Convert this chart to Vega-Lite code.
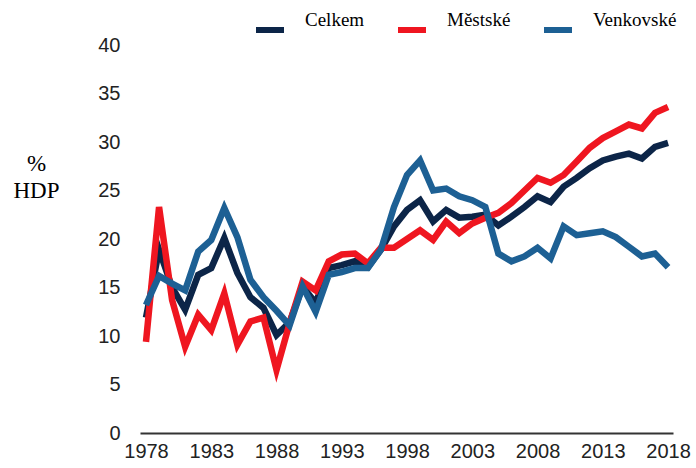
{
  "$schema": "https://vega.github.io/schema/vega-lite/v6.json",
  "width": 533,
  "height": 388,
  "autosize": {"type": "none"},
  "padding": {"left": 140, "top": 45, "right": 23, "bottom": 35},
  "background": "white",
  "config": {"view": {"stroke": null}},
  "data": {
    "values": [
      {"year": 1978, "Celkem": 11.9, "Městské": 9.4, "Venkovské": 13.2},
      {"year": 1979, "Celkem": 18.9, "Městské": 23.3, "Venkovské": 16.2},
      {"year": 1980, "Celkem": 15.0, "Městské": 13.7, "Venkovské": 15.4},
      {"year": 1981, "Celkem": 12.7, "Městské": 8.9, "Venkovské": 14.7},
      {"year": 1982, "Celkem": 16.3, "Městské": 12.2, "Venkovské": 18.7},
      {"year": 1983, "Celkem": 17.0, "Městské": 10.6, "Venkovské": 19.9},
      {"year": 1984, "Celkem": 20.1, "Městské": 14.4, "Venkovské": 23.2},
      {"year": 1985, "Celkem": 16.5, "Městské": 9.1, "Venkovské": 20.2},
      {"year": 1986, "Celkem": 14.0, "Městské": 11.5, "Venkovské": 15.8},
      {"year": 1987, "Celkem": 12.9, "Městské": 11.9, "Venkovské": 14.0},
      {"year": 1988, "Celkem": 10.1, "Městské": 6.5, "Venkovské": 12.6},
      {"year": 1989, "Celkem": 11.4, "Městské": 11.3, "Venkovské": 11.1},
      {"year": 1990, "Celkem": 15.1, "Městské": 15.6, "Venkovské": 15.1},
      {"year": 1991, "Celkem": 13.4, "Městské": 14.7, "Venkovské": 12.5},
      {"year": 1992, "Celkem": 17.0, "Městské": 17.7, "Venkovské": 16.3},
      {"year": 1993, "Celkem": 17.3, "Městské": 18.4, "Venkovské": 16.6},
      {"year": 1994, "Celkem": 17.7, "Městské": 18.5, "Venkovské": 17.0},
      {"year": 1995, "Celkem": 17.1, "Městské": 17.5, "Venkovské": 17.0},
      {"year": 1996, "Celkem": 18.9, "Městské": 19.1, "Venkovské": 18.9},
      {"year": 1997, "Celkem": 21.3, "Městské": 19.1, "Venkovské": 23.3},
      {"year": 1998, "Celkem": 23.0, "Městské": 20.0, "Venkovské": 26.6},
      {"year": 1999, "Celkem": 24.0, "Městské": 20.9, "Venkovské": 28.1},
      {"year": 2000, "Celkem": 21.8, "Městské": 19.9, "Venkovské": 25.0},
      {"year": 2001, "Celkem": 23.0, "Městské": 21.8, "Venkovské": 25.2},
      {"year": 2002, "Celkem": 22.2, "Městské": 20.6, "Venkovské": 24.4},
      {"year": 2003, "Celkem": 22.3, "Městské": 21.6, "Venkovské": 24.0},
      {"year": 2004, "Celkem": 22.5, "Městské": 22.2, "Venkovské": 23.3},
      {"year": 2005, "Celkem": 21.4, "Městské": 22.7, "Venkovské": 18.5},
      {"year": 2006, "Celkem": 22.3, "Městské": 23.7, "Venkovské": 17.7},
      {"year": 2007, "Celkem": 23.3, "Městské": 25.0, "Venkovské": 18.2},
      {"year": 2008, "Celkem": 24.4, "Městské": 26.3, "Venkovské": 19.1},
      {"year": 2009, "Celkem": 23.8, "Městské": 25.8, "Venkovské": 18.0},
      {"year": 2010, "Celkem": 25.4, "Městské": 26.6, "Venkovské": 21.3},
      {"year": 2011, "Celkem": 26.3, "Městské": 28.0, "Venkovské": 20.4},
      {"year": 2012, "Celkem": 27.3, "Městské": 29.4, "Venkovské": 20.6},
      {"year": 2013, "Celkem": 28.1, "Městské": 30.4, "Venkovské": 20.8},
      {"year": 2014, "Celkem": 28.5, "Městské": 31.1, "Venkovské": 20.2},
      {"year": 2015, "Celkem": 28.8, "Městské": 31.8, "Venkovské": 19.2},
      {"year": 2016, "Celkem": 28.3, "Městské": 31.4, "Venkovské": 18.2},
      {"year": 2017, "Celkem": 29.5, "Městské": 33.0, "Venkovské": 18.5},
      {"year": 2018, "Celkem": 29.9, "Městské": 33.6, "Venkovské": 17.1}
    ]
  },
  "transform": [
    {"fold": ["Celkem", "Městské", "Venkovské"], "as": ["series", "value"]}
  ],
  "mark": {"type": "line", "strokeWidth": 6.5},
  "encoding": {
    "x": {
      "field": "year",
      "type": "quantitative",
      "scale": {"domain": [1977.54, 2018.38], "nice": false, "zero": false},
      "axis": {
        "title": null,
        "values": [1978, 1983, 1988, 1993, 1998, 2003, 2008, 2013, 2018],
        "format": "d",
        "ticks": false,
        "grid": false,
        "domain": true,
        "domainColor": "#333333",
        "domainWidth": 2,
        "labelFont": "Liberation Sans",
        "labelFontSize": 20,
        "labelColor": "#222222",
        "labelPadding": 8,
        "labelFlush": false,
        "labelOverlap": false,
        "labelBound": false
      }
    },
    "y": {
      "field": "value",
      "type": "quantitative",
      "scale": {"domain": [0, 40], "nice": false},
      "axis": {
        "title": ["%", "HDP"],
        "titleAngle": 0,
        "titleFont": "Liberation Serif",
        "titleFontSize": 23,
        "titleFontWeight": "normal",
        "titleColor": "#000000",
        "titleAlign": "center",
        "titleBaseline": "top",
        "titleLineHeight": 27,
        "titleX": -104,
        "titleY": 107,
        "values": [0, 5, 10, 15, 20, 25, 30, 35, 40],
        "ticks": false,
        "grid": false,
        "domain": false,
        "labelFont": "Liberation Sans",
        "labelFontSize": 20,
        "labelColor": "#222222",
        "labelPadding": 20
      }
    },
    "color": {
      "field": "series",
      "type": "nominal",
      "sort": ["Celkem", "Městské", "Venkovské"],
      "scale": {
        "domain": ["Celkem", "Městské", "Venkovské"],
        "range": ["#0c2548", "#ef1620", "#1d6094"]
      },
      "legend": {
        "title": null,
        "orient": "none",
        "direction": "horizontal",
        "legendX": 113,
        "legendY": -32,
        "padding": 0,
        "symbolType": "stroke",
        "symbolSize": 784,
        "symbolStrokeWidth": 6,
        "labelFont": "Liberation Serif",
        "labelFontSize": 19,
        "labelFontWeight": "normal",
        "labelColor": "#000000",
        "labelBaseline": "bottom",
        "labelOffset": 18,
        "columnPadding": 21
      }
    }
  }
}
